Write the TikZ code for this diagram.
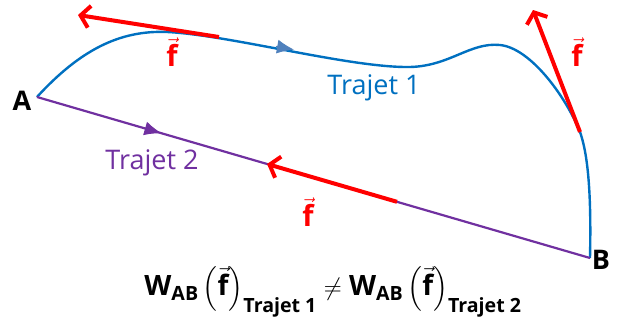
\documentclass[tikz,border=0pt]{standalone}
\usepackage{amsmath}
\usepackage{fontspec}
\setmainfont{Open Sans}
\usetikzlibrary{arrows.meta,calc}
\definecolor{tblue}{HTML}{0070C0}
\definecolor{tpurple}{HTML}{7030A0}
\definecolor{tred}{HTML}{FF0000}
\definecolor{tarrow}{HTML}{4F81BD}
\begin{document}
\begin{tikzpicture}[x=1pt,y=-1pt,
  pathone/.style={tblue, line width=2.4pt},
  pathtwo/.style={tpurple, line width=2.2pt},
  force/.style={tred, line width=4pt, -{Straight Barb[length=9pt,width=22pt]}},
  midtip/.style={-{Latex[length=17pt,width=14pt]}, line width=1pt},
  lab/.style={inner sep=0pt, font=\fontsize{27}{30}\selectfont},
  pt/.style={inner sep=0pt, font=\fontsize{27}{30}\selectfont\bfseries},
  flab/.style={inner sep=0pt, tred, font=\fontsize{29}{30}\selectfont\bfseries}
]
\useasboundingbox (0,0) rectangle (619,324);
\coordinate (A) at (37,97);
\coordinate (B) at (590,258);
\coordinate (P1) at (167,32);
\coordinate (P2) at (410,67);
\coordinate (P3) at (500,45);
\coordinate (P4) at (580,132);

% Trajet 1
\draw[pathone] (A) .. controls (80,50) and (120,30) .. (P1)
  .. controls (230,35) and (350,68) .. (P2)
  .. controls (450,66) and (470,42) .. (P3)
  .. controls (530,48) and (565,95) .. (P4)
  .. controls (590,160) and (591,210) .. (B);
\draw[tarrow, midtip] (276,46.4) -- (294,49.6);

% Trajet 2
\draw[pathtwo] (A) -- (B);
\draw[tpurple, midtip] ($(A)!0.19!(B)$) -- ($(A)!0.225!(B)$);

% forces
\coordinate (F1s) at (219,37);
\coordinate (F1e) at (78,15);
\draw[force] (F1s) -- (F1e);
\draw[force] (P4) -- (533,10);
\draw[force] ($(A)!0.651!(B)$) -- ($(A)!0.416!(B)$);

% labels
\node[pt] (lA) at (22,101) {A};
\node[pt] (lB) at (601,260) {B};
\node[lab, tblue] (t1) at (374,88) {Trajet 1};
\node[lab, tpurple] (t2) at (152,163) {Trajet 2};
\node[flab] (f1) at (172,52) {$\vec{\text{f}}$};
\node[flab] (f2) at (577,52) {$\vec{\text{f}}$};
\node[flab] (f3) at (308,212) {$\vec{\text{f}}$};

\node[inner sep=0pt, font=\fontsize{28}{30}\selectfont\bfseries] (eq) at (333,292)
 {W$_{\text{AB}}\left(\vec{\text{f}}\right)_{\text{Trajet 1}}\neq$ W$_{\text{AB}}\left(\vec{\text{f}}\right)_{\text{Trajet 2}}$};
\end{tikzpicture}
\end{document}
